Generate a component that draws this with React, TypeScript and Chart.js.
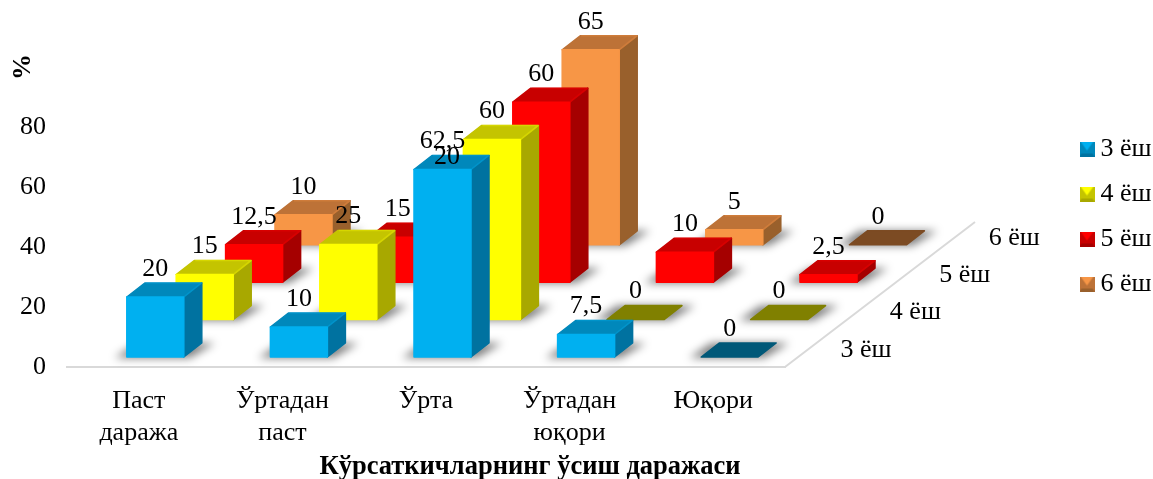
import { useEffect, useRef } from "react";
import { Chart, registerables } from "chart.js";

Chart.register(...registerables);

// Chart content
const categories = [["Паст", "даража"], ["Ўртадан", "паст"], ["Ўрта"], ["Ўртадан", "юқори"], ["Юқори"]];
const seriesNames = ["3 ёш", "4 ёш", "5 ёш", "6 ёш"];
const age3 = [20, 10, 62.5, 7.5, 0];
const age4 = [15, 25, 60, 0, 0];
const age5 = [12.5, 15, 60, 10, 2.5];
const age6 = [10, 20, 65, 5, 0];
const seriesValues = [age3, age4, age5, age6];
const xTitle = "Кўрсаткичларнинг ўсиш даражаси";
const yTitle = "%";

// Face shades per series
const frontColors = ["#00b0f0", "#ffff00", "#ff0000", "#f79646"];
const topColors = ["#0088bb", "#c4c400", "#c80000", "#bd7237"];
const sideColors = ["#0072a0", "#a8a800", "#a50000", "#99602c"];
const flatColors = ["#005878", "#808000", "#800000", "#7c4b23"];

// Oblique projection of the depth axis, in pixels
const ORIGIN_DX = 16.5;
const ORIGIN_DY = -10;
const STEP_DX = 49.4;
const STEP_DY = -37.4;
const BOX_DX = 18;
const BOX_DY = -14;
const FONT = '"Liberation Serif"';

function polygon(ctx: CanvasRenderingContext2D, pts: number[][], fill: string) {
  ctx.beginPath();
  pts.forEach((p, i) => (i ? ctx.lineTo(p[0], p[1]) : ctx.moveTo(p[0], p[1])));
  ctx.closePath();
  ctx.fillStyle = fill;
  ctx.strokeStyle = fill;
  ctx.lineWidth = 1.5;
  ctx.lineJoin = "round";
  ctx.fill();
  ctx.stroke();
}

function makeSwatch(s: number) {
  const c = document.createElement("canvas");
  c.width = 15;
  c.height = 15;
  const g = c.getContext("2d")!;
  const tri = (pts: number[][], fill: string) => {
    g.beginPath();
    pts.forEach((p, i) => (i ? g.lineTo(p[0], p[1]) : g.moveTo(p[0], p[1])));
    g.closePath();
    g.fillStyle = fill;
    g.fill();
  };
  g.fillStyle = topColors[s];
  g.fillRect(0, 0, 15, 15);
  tri([[1, 0], [14, 0], [7.5, 9]], frontColors[s]);
  tri([[0, 15], [15, 15], [13, 12], [2, 12]], sideColors[s]);
  return c;
}

const boxes3d = {
  id: "boxes3d",
  // Replaces the flat bars with extruded boxes, placed by the bar scales
  beforeDatasetDraw(chart: any, args: any) {
    const { ctx } = chart;
    const d = args.index;
    const bars = args.meta.data;
    const shiftX = ORIGIN_DX + d * STEP_DX;
    const shiftY = ORIGIN_DY + d * STEP_DY;
    ctx.save();
    ctx.filter = "blur(4px)";
    bars.forEach((bar: any) => {
      const x = bar.x + shiftX - bar.width / 2;
      const y0 = bar.base + shiftY;
      const w = bar.width;
      ctx.beginPath();
      ctx.moveTo(x - 12, y0 + 1);
      ctx.lineTo(x + w + 6, y0 + 1);
      ctx.lineTo(x + w + BOX_DX + 13, y0 + BOX_DY);
      ctx.lineTo(x + BOX_DX - 8, y0 + BOX_DY);
      ctx.closePath();
      ctx.fillStyle = "rgba(0,0,0,0.5)";
      ctx.fill();
    });
    ctx.restore();
    bars.forEach((bar: any, i: number) => {
      const x = bar.x + shiftX - bar.width / 2;
      const y0 = bar.base + shiftY;
      const y1 = bar.y + shiftY;
      const w = bar.width;
      if (seriesValues[d][i] === 0) {
        polygon(ctx, [[x, y0], [x + w, y0], [x + w + BOX_DX, y0 + BOX_DY], [x + BOX_DX, y0 + BOX_DY]], flatColors[d]);
        return;
      }
      polygon(ctx, [[x + w, y1], [x + w + BOX_DX, y1 + BOX_DY], [x + w + BOX_DX, y0 + BOX_DY], [x + w, y0]], sideColors[d]);
      polygon(ctx, [[x, y1], [x + BOX_DX, y1 + BOX_DY], [x + w + BOX_DX, y1 + BOX_DY], [x + w, y1]], topColors[d]);
      polygon(ctx, [[x, y1], [x + w, y1], [x + w, y0], [x, y0]], frontColors[d]);
      // Soft highlight along the bevelled back edge of the lid
      ctx.save();
      ctx.globalAlpha = 0.3;
      ctx.strokeStyle = frontColors[d];
      ctx.lineWidth = 1.5;
      ctx.lineJoin = "round";
      ctx.beginPath();
      ctx.moveTo(x + BOX_DX + 1, y1 + BOX_DY);
      ctx.lineTo(x + w + BOX_DX - 0.5, y1 + BOX_DY);
      ctx.lineTo(x + w + 0.5, y1 - 0.5);
      ctx.stroke();
      ctx.restore();
    });
    return false;
  },
  afterDatasetsDraw(chart: any) {
    const { ctx, chartArea } = chart;
    ctx.save();
    // Floor edge running back from the axis
    ctx.strokeStyle = "#d9d9d9";
    ctx.lineWidth = 2;
    ctx.beginPath();
    ctx.moveTo(chartArea.right, chartArea.bottom);
    ctx.lineTo(chartArea.right + 190, chartArea.bottom - 145);
    ctx.stroke();

    ctx.fillStyle = "#000";
    ctx.textAlign = "center";
    ctx.textBaseline = "middle";
    ctx.font = `26px ${FONT}`;
    // Value labels above each box
    seriesValues.forEach((values, d) => {
      const bars = chart.getDatasetMeta(d).data;
      values.forEach((v, i) => {
        const x = bars[i].x + ORIGIN_DX + d * STEP_DX;
        const y = bars[i].y + ORIGIN_DY + d * STEP_DY - 28;
        ctx.fillText(String(v).replace(".", ","), x, y);
      });
    });
    // Depth axis labels
    seriesNames.forEach((name, d) => {
      ctx.fillText(name, chartArea.right + 81 + d * STEP_DX, chartArea.bottom - 17 + d * STEP_DY);
    });
    // Axis titles
    ctx.font = `bold 26.5px ${FONT}`;
    ctx.fillText(xTitle, 530, 467);
    ctx.translate(23, 67);
    ctx.rotate(-Math.PI / 2);
    ctx.font = `bold 26px ${FONT}`;
    ctx.fillText(yTitle, 0, 0);
    ctx.restore();
  },
  afterLayout(chart: any) {
    // Keeps the key in the right-hand margin, clear of the depth axis
    const legend = chart.legend;
    const h = legend.bottom - legend.top;
    const w = legend.right - legend.left;
    legend.left = 1067.5;
    legend.right = 1067.5 + w;
    legend.top = 117;
    legend.bottom = 117 + h;
  },
};

export default function App() {
  const ref = useRef<HTMLCanvasElement>(null);
  useEffect(() => {
    const chart = new Chart(ref.current!, {
      type: "bar",
      data: {
        labels: categories as any,
        datasets: seriesNames.map((name, s) => ({
          label: name,
          data: seriesValues[s],
          backgroundColor: frontColors[s],
          grouped: false,
          categoryPercentage: 1,
          barPercentage: 0.397,
        })),
      },
      plugins: [boxes3d],
      options: {
        responsive: false,
        animation: false,
        events: [],
        layout: { padding: { top: 127, right: 368, left: 0, bottom: 0 } },
        plugins: {
          tooltip: { enabled: false },
          title: { display: false },
          legend: {
            position: "chartArea",
            align: "start",
            labels: {
              usePointStyle: true,
              pointStyleWidth: 1,
              color: "#000",
              font: { family: FONT, size: 26 },
              padding: 19,
              generateLabels: () =>
                seriesNames.map((name, s) => ({
                  text: name,
                  datasetIndex: s,
                  pointStyle: makeSwatch(s),
                  fontColor: "#000",
                  hidden: false,
                })) as any,
            },
          },
        },
        scales: {
          x: {
            grid: { display: false, drawTicks: false },
            border: { display: true, color: "#d9d9d9", width: 2 },
            afterFit: (s: any) => {
              s.height = 112;
            },
            ticks: {
              color: "#000",
              padding: 18,
              maxRotation: 0,
              autoSkip: false,
              font: { family: FONT, size: 26, lineHeight: 1.23 },
            },
          },
          y: {
            min: 0,
            max: 80,
            border: { display: false },
            grid: { display: false, drawTicks: false },
            afterFit: (s: any) => {
              s.width = 67;
            },
            ticks: {
              stepSize: 20,
              color: "#000",
              padding: 21,
              font: { family: FONT, size: 26 },
            },
          },
        },
      },
    } as any);
    return () => chart.destroy();
  }, []);
  return (
    <canvas
      ref={ref}
      width={1153}
      height={479}
      style={{ position: "fixed", left: 0, top: 0, width: 1153, height: 479, display: "block", background: "#fff" }}
    />
  );
}
